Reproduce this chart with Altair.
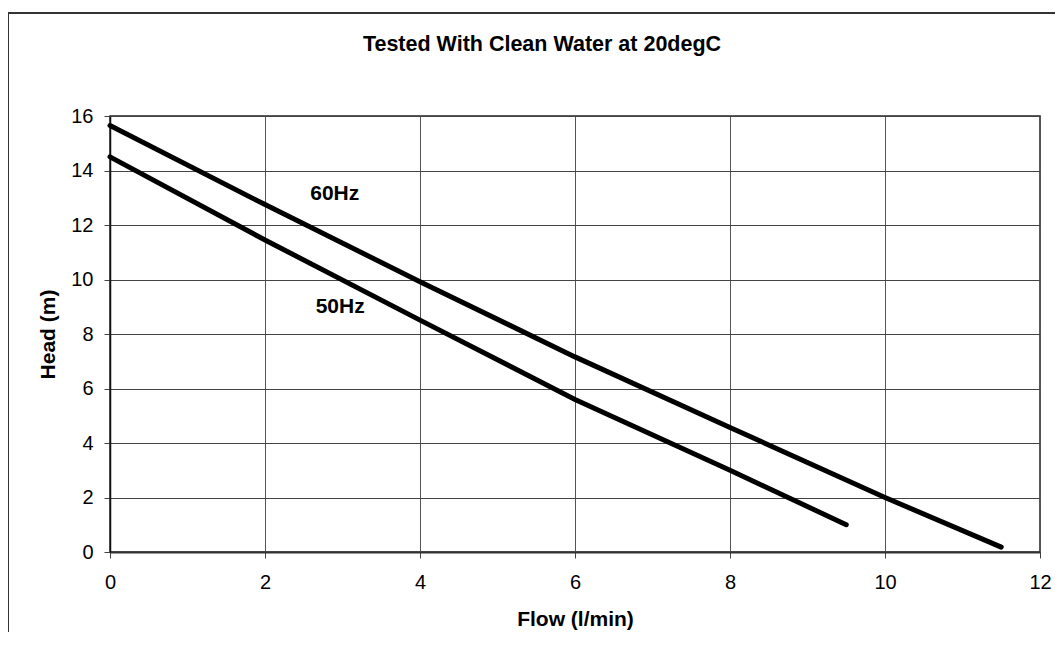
import altair as alt
import pandas as pd

flow_60 = [0, 2, 4, 6, 8, 10, 11.5]
head_60 = [15.65, 12.75, 9.92, 7.16, 4.57, 2.0, 0.18]
flow_50 = [0, 2, 4, 6, 8, 9.5]
head_50 = [14.5, 11.45, 8.51, 5.6, 3.0, 1.0]

label_text = ["60Hz", "50Hz"]
label_x = [2.9, 2.97]
label_y = [13.15, 9.0]

x_ticks = [0, 2, 4, 6, 8, 10, 12]
y_ticks = [0, 2, 4, 6, 8, 10, 12, 14, 16]

df = pd.concat([
    pd.DataFrame({"flow": flow_60, "head": head_60, "series": "60Hz"}),
    pd.DataFrame({"flow": flow_50, "head": head_50, "series": "50Hz"}),
])
labels = pd.DataFrame({"text": label_text, "flow": label_x, "head": label_y})

FONT = "Liberation Sans"
FS = 20
FT = 21

x_enc = alt.X("flow:Q", scale=alt.Scale(domain=[0, 12], nice=False),
              axis=alt.Axis(values=x_ticks, format="d", title="Flow (l/min)", grid=True,
                            tickSize=6, labelPadding=14, titlePadding=16, labelFlush=False,
                            domainColor="#333", domainWidth=2, tickColor="#444",
                            gridColor="#555", gridWidth=1,
                            labelFont=FONT, titleFont=FONT, labelFontSize=FS, titleFontSize=FT,
                            titleFontWeight="bold", labelColor="black", titleColor="black"))
y_enc = alt.Y("head:Q", scale=alt.Scale(domain=[0, 16], nice=False),
              axis=alt.Axis(values=y_ticks, format="d", title="Head (m)", grid=True,
                            tickSize=6, labelPadding=11, titlePadding=12, labelFlush=False,
                            domainColor="#111", domainWidth=1.5, tickColor="#444",
                            gridColor="#444", gridWidth=1,
                            labelFont=FONT, titleFont=FONT, labelFontSize=FS, titleFontSize=FT,
                            titleFontWeight="bold", labelColor="black", titleColor="black"))

frame = alt.Chart(pd.DataFrame({"a": [0]})).mark_rect(
    fill=None, stroke="#333", strokeWidth=2
).encode(x=alt.value(-102), x2=alt.value(1100), y=alt.value(-103), y2=alt.value(700))

lines = alt.Chart(df).mark_line(color="black", strokeWidth=5, strokeCap="round").encode(
    x=x_enc, y=y_enc, detail="series:N"
)

texts = alt.Chart(labels).mark_text(
    font=FONT, fontSize=FT, fontWeight="bold", color="black"
).encode(x="flow:Q", y="head:Q", text="text:N")

chart = alt.layer(frame, lines, texts).properties(
    width=930, height=436,
    background="white",
    title=alt.TitleParams("Tested With Clean Water at 20degC", font=FONT, fontSize=21.5,
                          fontWeight="bold", anchor="middle", offset=-43, dx=-33,
                          color="black", frame="group"),
    autosize=alt.AutoSizeParams(type="none"),
    padding={"left": 102, "top": 108, "right": 15, "bottom": 80},
).configure_view(stroke="#222", strokeWidth=1.5)

chart.save("out.html", embed_options={"renderer": "svg", "actions": False})
